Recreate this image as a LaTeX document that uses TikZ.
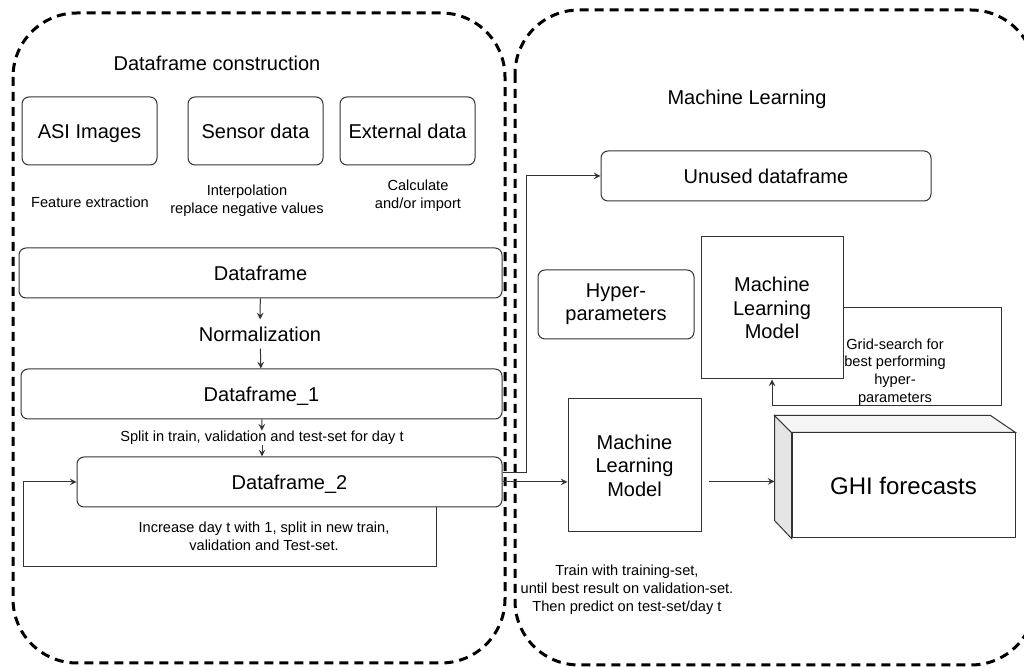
\documentclass[tikz,border=0pt]{standalone}
\usepackage{fontspec}
\setmainfont{Liberation Sans}
\begin{document}
\begin{tikzpicture}[x=0.5pt,y=-0.5pt,>=stealth,line width=0.5pt,
	box/.style={draw=black!80,rounded corners=3.5pt,text height=7.2pt,text depth=0pt,font=\fontsize{10}{12}\selectfont},
	sqbox/.style={draw=black!80,align=center,font=\fontsize{10}{11.75}\selectfont},
	note/.style={align=center,inner sep=0pt,font=\fontsize{7.3}{8.9}\selectfont},
	title/.style={font=\fontsize{10}{12}\selectfont},
	region/.style={line width=1.5pt,dash pattern=on 4.5pt off 3pt,rounded corners=32pt},
	conn/.style={draw=black!80,->}]
	\useasboundingbox (0,0) rectangle (1024,667);
	% the two parts
	\draw[region] (13,13) rectangle (505,663);
	\draw[region] (515,10) rectangle (1035,665);
	\node[title] (tdata) at (217,63) {Dataframe construction};
	\node[title] (tml) at (747,99) {Machine Learning};
	% sources
	\node[box,minimum width=67.5pt,minimum height=34pt] (asi) at (89.5,131) {ASI Images};
	\node[box,minimum width=67.5pt,minimum height=34pt] (sensor) at (255.5,131) {Sensor data};
	\node[box,minimum width=67.5pt,minimum height=34pt] (ext) at (407.5,131) {External data};
	\node[note] (feat) at (90,202) {Feature extraction};
	\node[note] (interp) at (247,201) {Interpolation\\replace negative values};
	\node[note] (calc) at (418,196) {Calculate\\and/or import};
	% dataframes
	\node[box,minimum width=241.5pt,minimum height=25pt] (df) at (260.5,273) {Dataframe};
	\node[title] (norm) at (260,334) {Normalization};
	\node[box,minimum width=240.5pt,minimum height=25pt] (df1) at (261.5,394) {Dataframe\_1};
	\node[note] (split) at (262,438) {Split in train, validation and test-set for day t};
	\node[box,minimum width=212.5pt,minimum height=25pt] (df2) at (289.5,482) {Dataframe\_2};
	\node[note] (incr) at (264,536) {Increase day t with 1, split in new train,\\validation and Test-set.};
	\draw[conn] (df) -- (norm);
	\draw[conn] (norm) -- (df1);
	\draw[conn] (df1) -- (split);
	\draw[conn] (split.south) -- (split.south |- df2.north);
	\coordinate (loopR) at (436,567);
	\coordinate (loopL) at (23,567);
	\draw[conn] (df2.south -| loopR) -- (loopR) -- (loopL) |- (df2.west);
	% machine learning
	\node[box,minimum width=165pt,minimum height=25pt] (unused) at (766,176) {Unused dataframe};
	\node[draw=black!80,rounded corners=3.5pt,align=center,font=\fontsize{10}{11.5}\selectfont,minimum width=78pt,minimum height=34.5pt] (hyper) at (616,304.5) {Hyper-\\parameters};
	\node[sqbox,minimum width=71pt,minimum height=71pt] (mlA) at (772,308) {Machine\\Learning\\Model};
	\node[sqbox,minimum width=66.5pt,minimum height=66.5pt] (mlB) at (634.5,465.5) {Machine\\Learning\\Model};
	\node[note] (grid) at (895,372) {Grid-search for\\best performing\\hyper-\\parameters};
	\node[note] (train) at (627,590) {Train with training-set,\\until best result on validation-set.\\Then predict on test-set/day t};
	% forecast block
	\node[draw=black!80,minimum width=111.5pt,minimum height=52.5pt,font=\fontsize{12}{14}\selectfont] (ghi) at (903.5,485.5) {GHI forecasts};
	\draw[draw=black!80,fill=black!10] (ghi.north west) -- ++(-17,-17) -- ++(0,105) -- (ghi.south west) -- cycle;
	\draw[draw=black!80,fill=black!4] (ghi.north west) -- ++(-17,-17) -- ++(216,0) -- (ghi.north east) -- cycle;
	% connectors
	\draw[conn] (df2.east) -- (df2.east -| mlB.west);
	\draw[conn] ([yshift=4.5pt]df2.east) -- ++(24,0) |- (unused.west);
	\coordinate (ghiIn) at ([xshift=-8.5pt,yshift=2pt]ghi.west);
	\path ([xshift=3.5pt]mlB.east) coordinate (mlBout);
	\draw[conn] (mlBout |- ghiIn) -- (ghiIn);
	\coordinate (gridR) at (1001,406);
	\draw[conn] (mlA.east) -| (gridR) -| (mlA.south);
\end{tikzpicture}
\end{document}
